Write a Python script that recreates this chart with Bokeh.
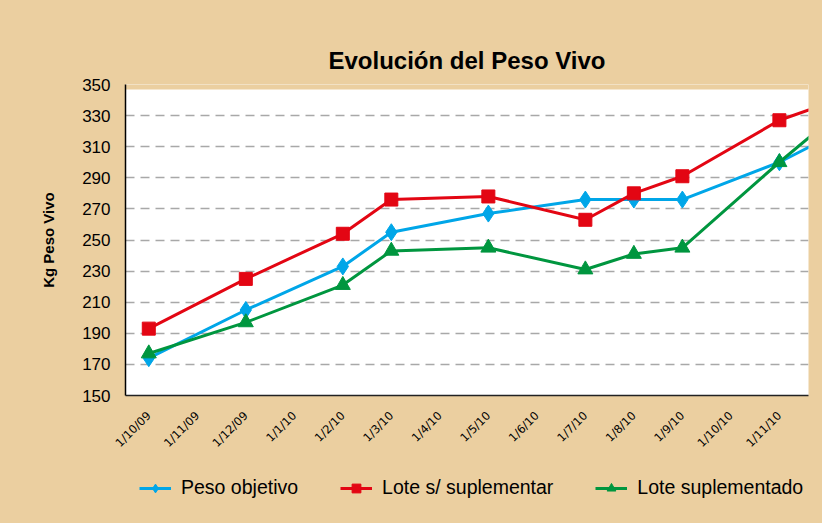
from bokeh.plotting import figure
from bokeh.layouts import column
from bokeh.models import Legend, LegendItem, BoxAnnotation, FixedTicker, Range1d, Title
from bokeh.embed import file_html
from bokeh.resources import INLINE

# ---- data ----
fechas = ["1/10/09", "1/11/09", "1/12/09", "1/1/10", "1/2/10", "1/3/10", "1/4/10",
          "1/5/10", "1/6/10", "1/7/10", "1/8/10", "1/9/10", "1/10/10", "1/11/10", "1/12/10"]
fechas_medicion = ["1/10/09", "1/12/09", "1/2/10", "1/3/10", "1/5/10", "1/7/10",
                   "1/8/10", "1/9/10", "1/11/10", "1/12/10"]
peso_objetivo = [174, 205, 233, 255, 267, 276, 276, 276, 300, 316]
lote_sin_suplementar = [193, 225, 254, 276, 278, 263, 280, 291, 327, 338]
lote_suplementado = [177, 197, 221, 243, 245, 231, 241, 245, 300, 326]
series_names = ["Peso objetivo", "Lote s/ suplementar", "Lote suplementado"]
y_ticks = [150, 170, 190, 210, 230, 250, 270, 290, 310, 330, 350]

x_med = [fechas.index(f) for f in fechas_medicion]
series_vals = [peso_objetivo, lote_sin_suplementar, lote_suplementado]

TAN = "#EBCFA0"
SANS = "Liberation Sans"
BLUE = "#00A6E8"
RED = "#E30613"
GREEN = "#00963F"
styles = [("diamond", 17, BLUE), ("square", 13, RED), ("triangle", 15, GREEN)]

p = figure(frame_width=683, frame_height=311, output_backend="svg", toolbar_location=None,
           x_range=Range1d(-0.48, 13.6), y_range=Range1d(150, 350),
           min_border_left=125, min_border_right=14, min_border_top=84,
           min_border_bottom=55)
p.background_fill_color = "white"
p.border_fill_color = TAN
p.outline_line_color = None

p.title = Title(text="Evolución del Peso Vivo", align="center",
                text_font=SANS, text_font_size="24px",
                text_font_style="bold", text_color="black", standoff=22, offset=4)

# tan strip at top of plot area
p.add_layout(BoxAnnotation(bottom=346.8, fill_color=TAN, fill_alpha=1,
                           line_color=None, level="image"))

# grid
p.xgrid.grid_line_color = None
p.ygrid.grid_line_color = "#A8A8A8"
p.ygrid.grid_line_dash = "9 6"
p.ygrid.grid_line_width = 1.5
p.ygrid.ticker = FixedTicker(ticks=y_ticks[1:])

# axes
p.yaxis.ticker = FixedTicker(ticks=y_ticks)
p.yaxis.major_tick_line_color = None
p.yaxis.minor_tick_line_color = None
p.yaxis.axis_line_color = "black"
p.yaxis.axis_line_width = 1.5
p.yaxis.major_label_text_font = SANS
p.yaxis.major_label_text_font_size = "17px"
p.yaxis.major_label_text_color = "black"
p.yaxis.major_label_standoff = 9
p.yaxis.axis_label = "Kg Peso Vivo"
p.yaxis.axis_label_text_font = SANS
p.yaxis.axis_label_text_font_size = "15px"
p.yaxis.axis_label_text_font_style = "bold"
p.yaxis.axis_label_text_color = "black"
p.yaxis.axis_label_standoff = 22

p.xaxis.ticker = FixedTicker(ticks=list(range(len(fechas))))
p.xaxis.major_label_overrides = {i: f for i, f in enumerate(fechas)}
p.xaxis.major_label_orientation = 0.785398
p.xaxis.major_tick_line_color = None
p.xaxis.minor_tick_line_color = None
p.xaxis.axis_line_color = "#222222"
p.xaxis.axis_line_width = 1.5
p.xaxis.major_label_text_font = "DejaVu Sans"
p.xaxis.major_label_text_font_size = "11.5px"
p.xaxis.major_label_text_color = "black"
p.xaxis.major_label_standoff = 12

for vals, (mk, sz, col) in zip(series_vals, styles):
    p.line(x_med, vals, line_color=col, line_width=3)
    p.scatter(x_med, vals, marker=mk, size=sz, fill_color=col, line_color=col)

# ---- legend strip (separate figure below; same series, clipped out of view) ----
pl = figure(frame_width=683, height=66, output_backend="svg", toolbar_location=None,
            x_range=Range1d(0, 1), y_range=Range1d(0, 1),
            min_border_left=125, min_border_right=14, min_border_top=0,
            min_border_bottom=0)
pl.background_fill_alpha = 0
pl.border_fill_color = TAN
pl.outline_line_color = None
pl.axis.visible = False
pl.grid.visible = False

items = []
for name, vals, (mk, sz, col) in zip(series_names, series_vals, styles):
    lr = pl.line(x_med, vals, line_color=col, line_width=3)
    sr = pl.scatter(x_med, vals, marker=mk, size=sz * 0.8, fill_color=col, line_color=col)
    items.append(LegendItem(label=name, renderers=[lr, sr]))

legend = Legend(items=items, orientation="horizontal", location=(14, 24),
                background_fill_alpha=0, border_line_color=None,
                label_text_font=SANS, label_text_font_size="19.5px",
                label_text_color="black", glyph_width=32, glyph_height=22,
                label_height=22, label_standoff=10, spacing=42, margin=0, padding=6)
pl.add_layout(legend, "center")

layout = column(p, pl, spacing=0, styles={"background-color": TAN})
open("out.html", "w").write(file_html(layout, INLINE))
